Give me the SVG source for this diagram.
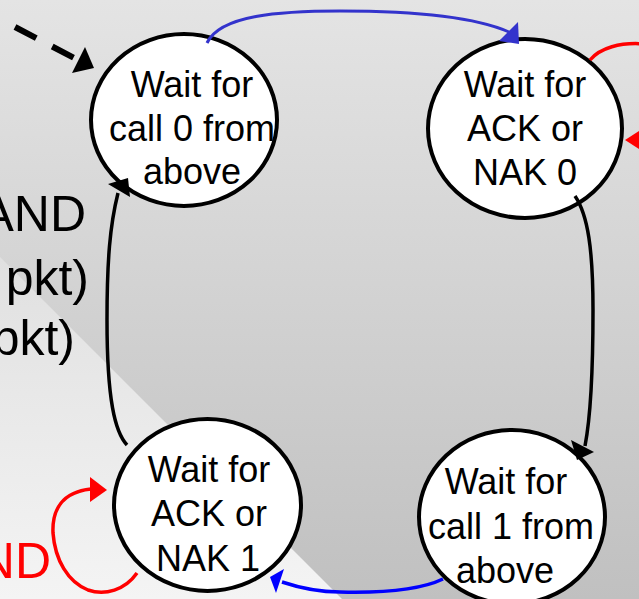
<svg xmlns="http://www.w3.org/2000/svg" width="639" height="599" viewBox="0 0 639 599">
<defs>
<linearGradient id="bg" x1="0" y1="0" x2="0" y2="1">
<stop offset="0" stop-color="#e4e4e4"/>
<stop offset="1" stop-color="#c0c0c0"/>
</linearGradient>
<linearGradient id="lt" x1="0" y1="257" x2="0" y2="599" gradientUnits="userSpaceOnUse">
<stop offset="0" stop-color="#e0e0e0"/>
<stop offset="1" stop-color="#f4f4f4"/>
</linearGradient>
<style>
.node ellipse{fill:#fff;stroke:#000;stroke-width:4}
.node text{font-family:"Liberation Sans",Arial,sans-serif;font-size:36px;fill:#000;text-anchor:middle}
.side{font-family:"Liberation Sans",Arial,sans-serif;font-size:50px;text-anchor:end}
.conn path{fill:none}
</style>
</defs>
<rect width="639" height="599" fill="url(#bg)"/>
<polygon points="0,257 342,599 0,599" fill="url(#lt)"/>

<g id="side-text">
<text class="side" x="86" y="231" fill="#000">AND</text>
<text class="side" x="89" y="295" fill="#000">pkt)</text>
<text class="side" x="75" y="355" fill="#000">pkt)</text>
<text class="side" x="51" y="578" fill="#ff0000">ND</text>
</g>

<g id="node-call0" class="node">
<ellipse cx="184" cy="120" rx="93" ry="86"/>
<text><tspan x="192" y="97">Wait for</tspan><tspan x="192" y="140.5">call 0 from</tspan><tspan x="192" y="184">above</tspan></text>
</g>
<g id="node-ack0" class="node">
<ellipse cx="525" cy="128.5" rx="97" ry="89.5"/>
<text><tspan x="525" y="97">Wait for</tspan><tspan x="525" y="140.5">ACK or</tspan><tspan x="525" y="185">NAK 0</tspan></text>
</g>
<g id="node-ack1" class="node">
<ellipse cx="207.5" cy="505" rx="93.5" ry="86"/>
<text><tspan x="209" y="482">Wait for</tspan><tspan x="209" y="526">ACK or</tspan><tspan x="208" y="571">NAK 1</tspan></text>
</g>
<g id="node-call1" class="node">
<ellipse cx="512" cy="517" rx="93" ry="87"/>
<text><tspan x="506" y="494">Wait for</tspan><tspan x="511" y="539">call 1 from</tspan><tspan x="505" y="583">above</tspan></text>
</g>

<g id="connectors" class="conn">
<path d="M15,27 L80,61" stroke="#000" stroke-width="6" stroke-dasharray="24 18"/>
<polygon points="94,68 85,47 72,73" fill="#000"/>

<path d="M207,43 C220,15 280,11 340,11 C420,11 475,17 509,32" stroke="#3333cc" stroke-width="3"/>
<polygon points="518,22 499,41 519,44" fill="#3333cc"/>

<path d="M590,60 C600,48 620,42 645,44 C700,50 700,140 643,140" stroke="#ff0000" stroke-width="3.5"/>
<polygon points="625,140 645,127 645,153" fill="#ff0000"/>

<path d="M575,196 C588,215 593,250 593,310 C593,380 590,420 585,446" stroke="#000" stroke-width="3.5"/>
<polygon points="571,440 594,452 577,460" fill="#000"/>

<path d="M443,579 C420,590 380,593 340,592 C320,592 300,588 282,582" stroke="#0000ff" stroke-width="3.5"/>
<polygon points="270,577 284,569 276,593" fill="#0000ff"/>

<path d="M127,445 C115,432 107,400 107,320 C107,260 110,225 118,193" stroke="#000" stroke-width="3.5"/>
<polygon points="128,178 108,184 130,197" fill="#000"/>

<path d="M137,573 C125,590 105,596 88,590 C68,582 55,560 53,533 C52,510 62,492 91,489" stroke="#ff0000" stroke-width="3.5"/>
<polygon points="90,477 107,490 90,502" fill="#ff0000"/>
</g>
</svg>
